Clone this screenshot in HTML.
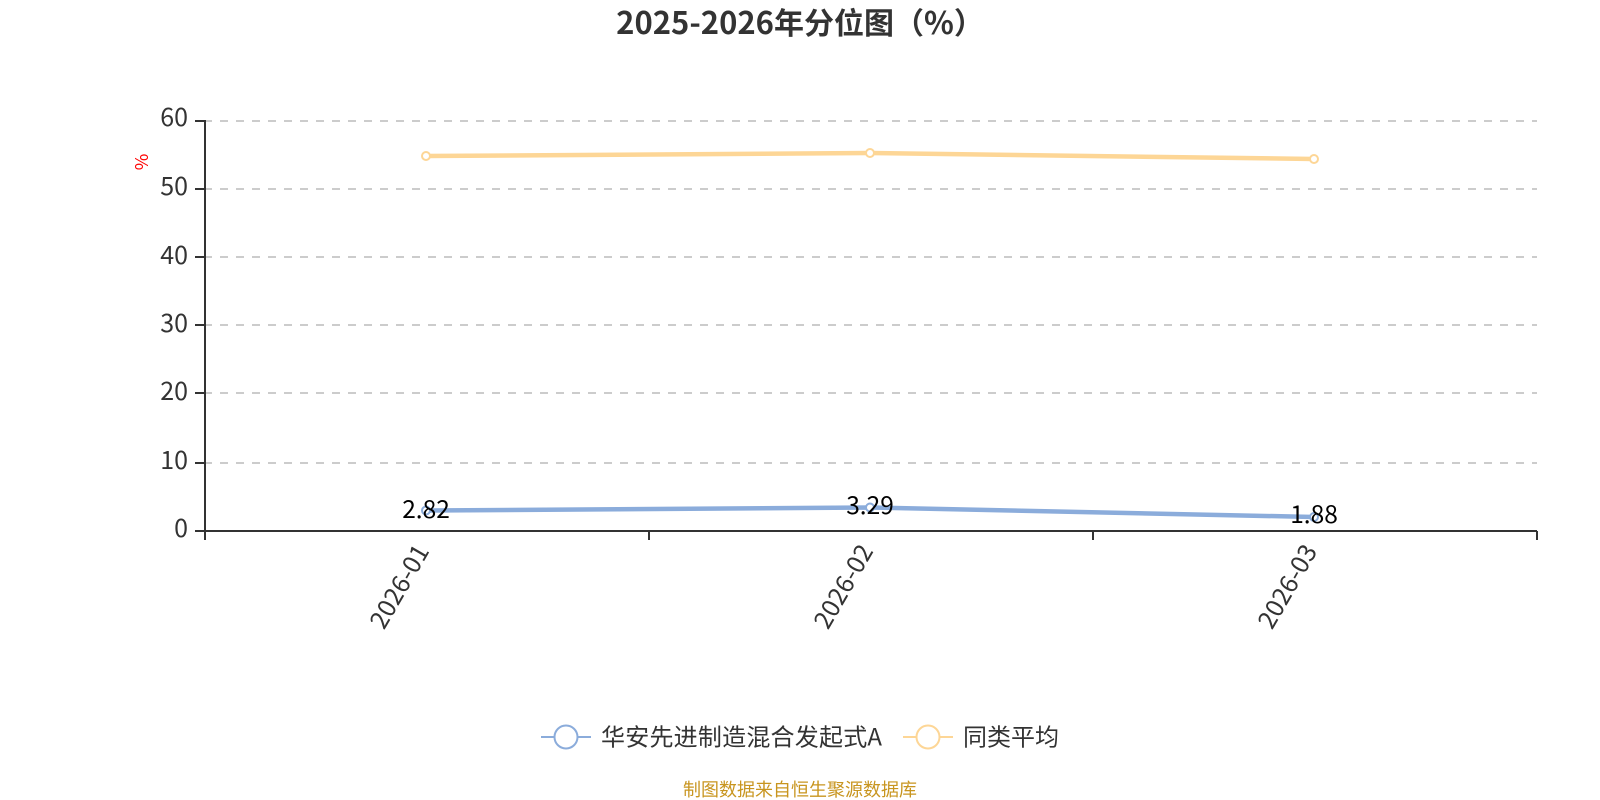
<!DOCTYPE html>
<html><head><meta charset="utf-8"><style>
html,body{margin:0;padding:0;background:#fff;width:1600px;height:800px;overflow:hidden}
svg{display:block}
text{font-family:"Noto Sans CJK SC","Liberation Sans",sans-serif}
</style></head><body>
<svg width="1600" height="800" viewBox="0 0 1600 800" xmlns="http://www.w3.org/2000/svg">
<rect width="1600" height="800" fill="#fff"/>
<text x="800" y="34" text-anchor="middle" font-size="30" font-weight="700" fill="#333"><tspan font-size="31">2025-2026</tspan>年分位图（<tspan font-size="31">%</tspan>）</text>
<g stroke="#ccc" stroke-width="2" stroke-dasharray="8 8" fill="none">
<path d="M204 121H1537M204 189H1537M204 257H1537M204 325H1537M204 393H1537M204 463H1537"/>
</g>
<g stroke="#333" stroke-width="2" fill="none">
<path d="M205 120V531M195 121H205M195 189H205M195 257H205M195 325H205M195 393H205M195 463H205M195 531H1537"/>
<path d="M205 531V540M649 531V540M1093 531V540M1537 531V540"/>
</g>
<g font-size="25" fill="#333" text-anchor="end">
<text x="188" y="126">60</text><text x="188" y="195">50</text><text x="188" y="264">40</text>
<text x="188" y="332">30</text><text x="188" y="400">20</text><text x="188" y="469">10</text>
<text x="188" y="537">0</text>
</g>
<text transform="translate(148,162) rotate(-90)" text-anchor="middle" font-size="18" fill="#f00">%</text>
<g font-size="25" fill="#333" text-anchor="end">
<text transform="translate(430,551) rotate(-60)">2026-01</text>
<text transform="translate(874,551) rotate(-60)">2026-02</text>
<text transform="translate(1318,551) rotate(-60)">2026-03</text>
</g>
<g fill="none" stroke="#fdd696" stroke-width="4.500">
<polyline points="426,156 870,153 1314,159"/>
</g>
<g fill="#fff" stroke="#fdd696" stroke-width="2">
<circle cx="426" cy="156" r="4"/><circle cx="870" cy="153" r="4"/><circle cx="1314" cy="159" r="4"/>
</g>
<g fill="none" stroke="#8bacdb" stroke-width="4.500">
<polyline points="426,510.500 870,507.500 1314,517"/>
</g>
<g fill="#fff" stroke="#8bacdb" stroke-width="2">
<circle cx="426" cy="510.500" r="4"/><circle cx="870" cy="507.500" r="4"/><circle cx="1314" cy="517" r="4"/>
</g>
<g font-size="24.500" fill="#000" text-anchor="middle">
<text x="426" y="518">2.82</text><text x="870" y="514">3.29</text><text x="1314" y="523">1.88</text>
</g>
<g fill="none" stroke="#8bacdb" stroke-width="2">
<path d="M541 737H591"/><circle cx="566" cy="737" r="11.500" fill="#fff"/>
</g>
<text x="601" y="745.500" font-size="24" fill="#333" textLength="281">华安先进制造混合发起式A</text>
<g fill="none" stroke="#fdd696" stroke-width="2">
<path d="M903 737H953"/><circle cx="928" cy="737" r="11.500" fill="#fff"/>
</g>
<text x="963" y="745.500" font-size="24" fill="#333">同类平均</text>
<text x="800" y="796" text-anchor="middle" font-size="18" fill="#c8951f">制图数据来自恒生聚源数据库</text>
</svg>
</body></html>
